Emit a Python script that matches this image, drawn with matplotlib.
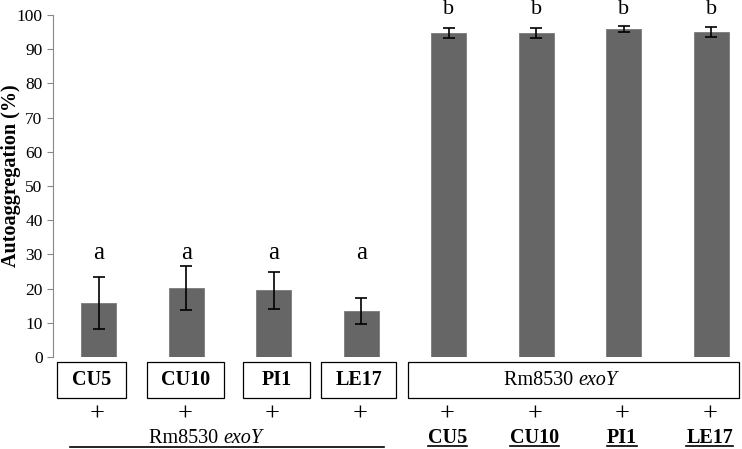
import matplotlib
matplotlib.use("Agg")
import matplotlib.pyplot as plt
from matplotlib.patches import Rectangle

plt.rcParams['font.family'] = ['Liberation Serif', 'DejaVu Serif']

# ---- data ----
values = [15.8, 20.1, 19.5, 13.4, 94.7, 94.7, 95.9, 95.1]
errors = [7.6, 6.4, 5.5, 3.8, 1.5, 1.5, 1.0, 1.4]
letters = ['a', 'a', 'a', 'a', 'b', 'b', 'b', 'b']
left_strains = ['CU5', 'CU10', 'PI1', 'LE17']
right_strains = ['CU5', 'CU10', 'PI1', 'LE17']
yticks = [0, 10, 20, 30, 40, 50, 60, 70, 80, 90, 100]

W, H = 742, 449
fig = plt.figure(figsize=(W / 100, H / 100), dpi=100)
ax = fig.add_axes([53 / W, (H - 357) / H, (W - 53) / W, (357 - 15) / H])

x = list(range(len(values)))
ax.bar(x, values, width=0.4, color='#666666', edgecolor='#7a7a7a', linewidth=0.6,
       yerr=errors, capsize=4, error_kw=dict(ecolor='black', elinewidth=1.2, capthick=1.2))

ax.set_xlim(-0.525, 7.35)
ax.set_ylim(0, 100)
ax.set_yticks(yticks)
ax.set_xticks([])
for s in ['top', 'right', 'bottom']:
    ax.spines[s].set_visible(False)
ax.spines['left'].set_color('#888888')
ax.tick_params(axis='y', colors='#888888', length=4, labelsize=12.5, labelcolor='black')
fig.text(11 / W, 1 - 176 / H, 'Autoaggregation (%)', rotation=90, ha='center', va='center',
         fontsize=14.5, fontweight='bold')

# significance letters
for i, (v, l) in enumerate(zip(values, letters)):
    if l == 'a':
        ax.text(i, 30.4, l, ha='center', va='center', fontsize=18, clip_on=False)
    else:
        ax.text(i, 101.6, l, ha='center', va='center', fontsize=16, clip_on=False)

# boxes under bars (left group)
box_top, box_bot = -1.5, -12
box_spans = [(-0.479, 0.308), (0.547, 1.425), (1.642, 2.417), (2.543, 3.398)]
for (x0, x1), name in zip(box_spans, left_strains):
    ax.add_patch(Rectangle((x0, box_bot), x1 - x0, box_top - box_bot, facecolor='white',
                           edgecolor='black', linewidth=0.9, clip_on=False))
    ax.text((x0 + x1) / 2, (box_top + box_bot) / 2, name, ha='center', va='center',
            fontsize=14.5, fontweight='bold', clip_on=False)

# big box (right group)
bx0, bx1 = 3.535, 7.32
ax.add_patch(Rectangle((bx0, box_bot), bx1 - bx0, box_top - box_bot, facecolor='white',
                       edgecolor='black', linewidth=0.9, clip_on=False))
cx = (bx0 + bx1) / 2 + 0.05
ax.text(cx, (box_top + box_bot) / 2, 'Rm8530 ', ha='right', va='center', fontsize=14.5, clip_on=False)
ax.text(cx, (box_top + box_bot) / 2, 'exoY', ha='left', va='center', fontsize=14.5,
        style='italic', clip_on=False)

# plus signs
for i in x:
    ax.text(i - 0.02, -16.8, '+', ha='center', va='center', fontsize=19, clip_on=False)

# bottom-left label with underline
lx = 1.42
ax.text(lx, -23.8, 'Rm8530 ', ha='right', va='center', fontsize=14.5, clip_on=False)
ax.text(lx, -23.8, 'exoY', ha='left', va='center', fontsize=14.5, style='italic', clip_on=False)
ax.plot([-0.33, 3.26], [-26.3, -26.3], color='black', linewidth=1.2, clip_on=False)

# bottom-right labels underlined
for i, name in zip(range(4, 8), right_strains):
    t = ax.text(i - 0.02, -23.8, name, ha='center', va='center', fontsize=14.5,
                fontweight='bold', clip_on=False)

fig.canvas.draw()
renderer = fig.canvas.get_renderer()
inv = ax.transData.inverted()
for t in ax.texts[-4:]:
    bb = t.get_window_extent(renderer)
    (x0, y0), (x1, y1) = inv.transform([(bb.x0, bb.y0), (bb.x1, bb.y1)])
    ax.plot([x0, x1], [-26.0, -26.0], color='black', linewidth=1.2, clip_on=False)

fig.savefig('out.png', dpi=100)
